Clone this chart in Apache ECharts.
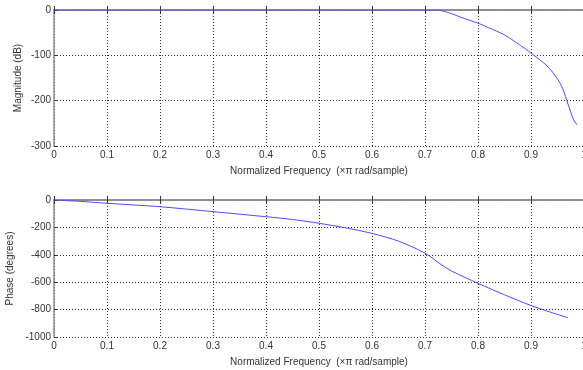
<!DOCTYPE html>
<html>
<head>
<meta charset="utf-8">
<script src="https://cdn.jsdelivr.net/npm/echarts@6/dist/echarts.min.js"></script>
<style>
  html, body { margin: 0; padding: 0; background: #fff; }
  #chart { width: 583px; height: 370px; }
</style>
</head>
<body>
<div id="chart"></div>
<script>
// normalized frequency (x pi rad/sample) and magnitude response in dB
const magFreq = [0, 0.70, 0.72, 0.73, 0.75, 0.77, 0.80, 0.82, 0.85, 0.88, 0.90, 0.93, 0.95, 0.96, 0.97, 0.98, 0.987]
const magDb = [0, 0, 0, -1, -8, -17, -29, -39, -55, -78, -95, -123, -152, -174, -208, -241, -254]

// phase response in degrees
const phaseFreq = [0, 0.05, 0.1, 0.2, 0.3, 0.4, 0.45, 0.5, 0.55, 0.6, 0.65, 0.7, 0.73, 0.75, 0.8, 0.85, 0.9, 0.93, 0.97]
const phaseDeg = [0, -10, -24, -49, -85, -122, -142, -170, -203, -244, -300, -388, -470, -518, -608, -692, -770, -810, -860]

const xTitle = "Normalized Frequency  (\u00d7\u03c0 rad/sample)"
const magTitle = "Magnitude (dB)"
const phaseTitle = "Phase (degrees)"

const font = "'Liberation Sans', Arial, sans-serif"
const boxColor = "#8c8c8c"
const lineColor = "#4d4dff"

const chart = echarts.init(document.getElementById("chart"))

const pair = (xs, ys) => xs.map((x, i) => [x, ys[i]])

const bottomX = (gridIndex) => ({
  type: "value",
  gridIndex,
  min: 0,
  max: 1,
  interval: 0.1,
  position: "bottom",
  name: xTitle,
  nameLocation: "middle",
  nameGap: 20,
  nameMoveOverlap: false,
  nameTextStyle: { fontFamily: font, fontSize: 10, color: "#333" },
  axisLine: { lineStyle: { color: boxColor, width: 1.5 } },
  axisTick: { inside: true, length: 4, lineStyle: { color: "#333" } },
  axisLabel: {
    fontFamily: font,
    fontSize: 10,
    color: "#333",
    margin: 4,
    formatter: (v) => (v === 0 || v === 1 ? String(v) : v.toFixed(1)),
  },
  splitLine: { show: true, lineStyle: { color: "#333", type: [1, 2], width: 1 } },
})

const topX = (gridIndex) => ({
  type: "value",
  gridIndex,
  min: 0,
  max: 1,
  interval: 0.1,
  position: "top",
  axisLine: { lineStyle: { color: boxColor, width: 1.5 } },
  axisTick: { inside: true, length: 4, lineStyle: { color: "#333" } },
  axisLabel: { show: false },
  splitLine: { show: false },
})

const leftY = (gridIndex, min, interval, name, gap) => ({
  type: "value",
  gridIndex,
  min,
  max: 0,
  interval,
  name,
  nameLocation: "middle",
  nameGap: gap,
  nameMoveOverlap: false,
  nameTextStyle: { fontFamily: font, fontSize: 10, color: "#333" },
  axisLine: { show: true, lineStyle: { color: boxColor, width: 1.5 } },
  axisTick: { show: true, inside: true, length: 4, lineStyle: { color: "#333" } },
  axisLabel: { fontFamily: font, fontSize: 10, color: "#333", margin: 3, formatter: (v) => String(v) },
  splitLine: { show: true, lineStyle: { color: "#333", type: [1, 2], width: 1 } },
})

chart.setOption({
  animation: false,
  grid: [
    { left: 54, top: 10, width: 530, height: 136, containLabel: false, outerBoundsMode: "none" },
    { left: 54, top: 200, width: 530, height: 137, containLabel: false, outerBoundsMode: "none" },
  ],
  xAxis: [bottomX(0), topX(0), bottomX(1), topX(1)],
  yAxis: [
    leftY(0, -300, 100, magTitle, 31),
    leftY(1, -1000, 200, phaseTitle, 39),
  ],
  series: [
    {
      type: "line",
      xAxisIndex: 0,
      yAxisIndex: 0,
      data: pair(magFreq, magDb),
      smooth: 0.3,
      showSymbol: false,
      lineStyle: { color: lineColor, width: 1 },
      z: 5,
    },
    {
      type: "line",
      xAxisIndex: 2,
      yAxisIndex: 1,
      data: pair(phaseFreq, phaseDeg),
      smooth: 0.3,
      showSymbol: false,
      lineStyle: { color: lineColor, width: 1 },
      z: 5,
    },
  ],
})
</script>
</body>
</html>
